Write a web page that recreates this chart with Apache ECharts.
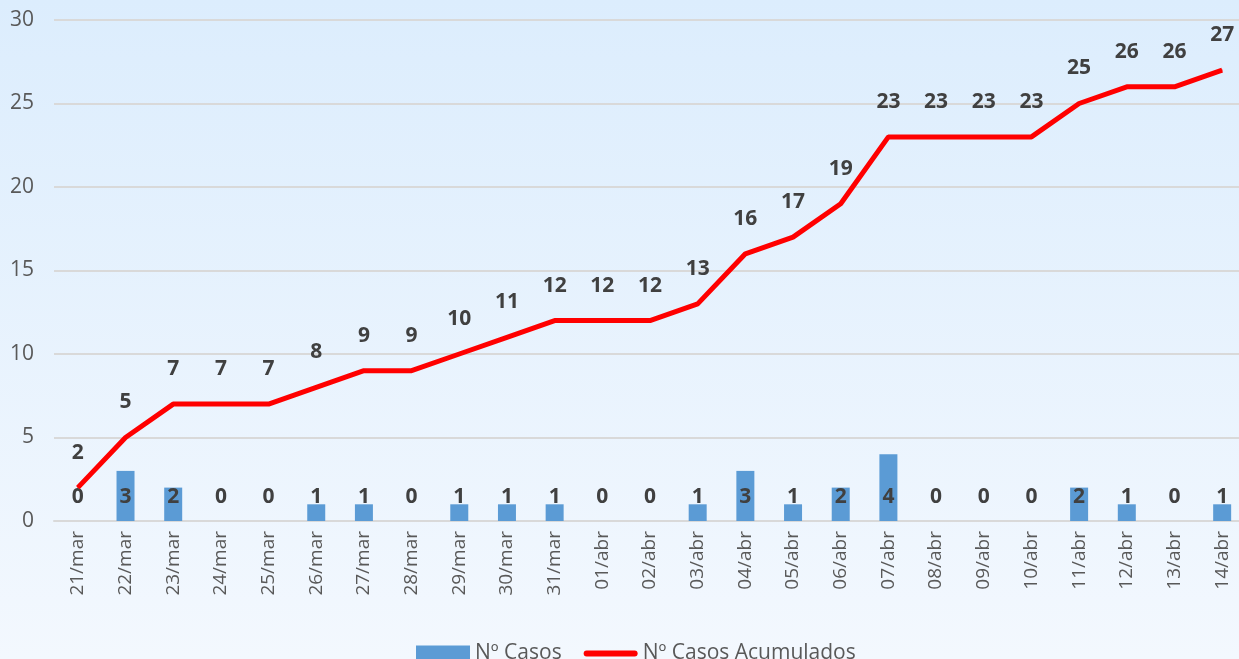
<!DOCTYPE html>
<html>
<head>
    <meta charset="utf-8">
    <title>Casos</title>
    <script src="https://cdn.jsdelivr.net/npm/echarts@6/dist/echarts.min.js"></script>
    <style type="text/css">
        html, body { margin: 0; padding: 0; overflow: hidden; }
        /* el área de trazado sigue unos píxeles más allá del borde derecho */
        #main { width: 1246px; height: 659px; }
    </style>
</head>
<body>
<div id="main"></div>
<script type="text/javascript">
    // datos
    var dias = ['21/mar','22/mar','23/mar','24/mar','25/mar','26/mar','27/mar','28/mar','29/mar','30/mar','31/mar',
        '01/abr','02/abr','03/abr','04/abr','05/abr','06/abr','07/abr','08/abr','09/abr','10/abr','11/abr','12/abr','13/abr','14/abr'];
    var casos = [0,3,2,0,0,1,1,0,1,1,1,0,0,1,3,1,2,4,0,0,0,2,1,0,1];
    var acumulados = [2,5,7,7,7,8,9,9,10,11,12,12,12,13,16,17,19,23,23,23,23,25,26,26,27];

    var fuente = 'Open Sans';
    var myChart = echarts.init(document.getElementById('main'));
    myChart.setOption({
        backgroundColor: {
            type: 'linear', x: 0, y: 0, x2: 0, y2: 1,
            colorStops: [{ offset: 0, color: '#dcedfd' }, { offset: 1, color: '#f3f8fe' }]
        },
        animation: false,
        grid: { left: 54, right: 0, top: 20, bottom: 138 },
        legend: {
            left: 411, top: 638,
            itemWidth: 54, itemHeight: 16, itemGap: 22,
            textStyle: { fontFamily: fuente, fontSize: 21, color: '#595959' },
            data: [
                { name: 'Nº Casos', icon: 'rect' },
                { name: 'Nº Casos Acumulados', icon: 'path://M3,0h48a3,3 0 0 1 0,6h-48a3,3 0 0 1 0,-6z' }
            ]
        },
        xAxis: {
            type: 'category',
            data: dias,
            axisLine: { lineStyle: { color: '#d9d9d9', width: 2 } },
            axisTick: { lineStyle: { color: '#d9d9d9', width: 2 }, length: 7 },
            axisLabel: { rotate: 90, fontFamily: fuente, fontSize: 19, color: '#595959', margin: 10 }
        },
        yAxis: {
            type: 'value', min: 0, max: 30, interval: 5,
            axisLabel: { fontFamily: fuente, fontSize: 21, color: '#595959', margin: 20 },
            splitLine: { lineStyle: { color: '#d9d9d9', width: 2 } }
        },
        series: [{
            name: 'Nº Casos',
            type: 'bar',
            data: casos,
            barWidth: 18,
            itemStyle: { color: '#5b9bd5' },
            label: {
                show: true, position: 'insideBottom', distance: 13,
                fontFamily: fuente, fontSize: 21, fontWeight: 'bold', color: '#404040'
            }
        }, {
            name: 'Nº Casos Acumulados',
            type: 'line',
            data: acumulados,
            symbol: 'circle',
            symbolSize: 1,
            showSymbol: true,
            lineStyle: { color: '#ff0000', width: 5 },
            itemStyle: { color: '#ff0000' },
            label: {
                show: true, position: 'top', distance: 24,
                fontFamily: fuente, fontSize: 21, fontWeight: 'bold', color: '#404040'
            }
        }]
    });
</script>
</body>
</html>
